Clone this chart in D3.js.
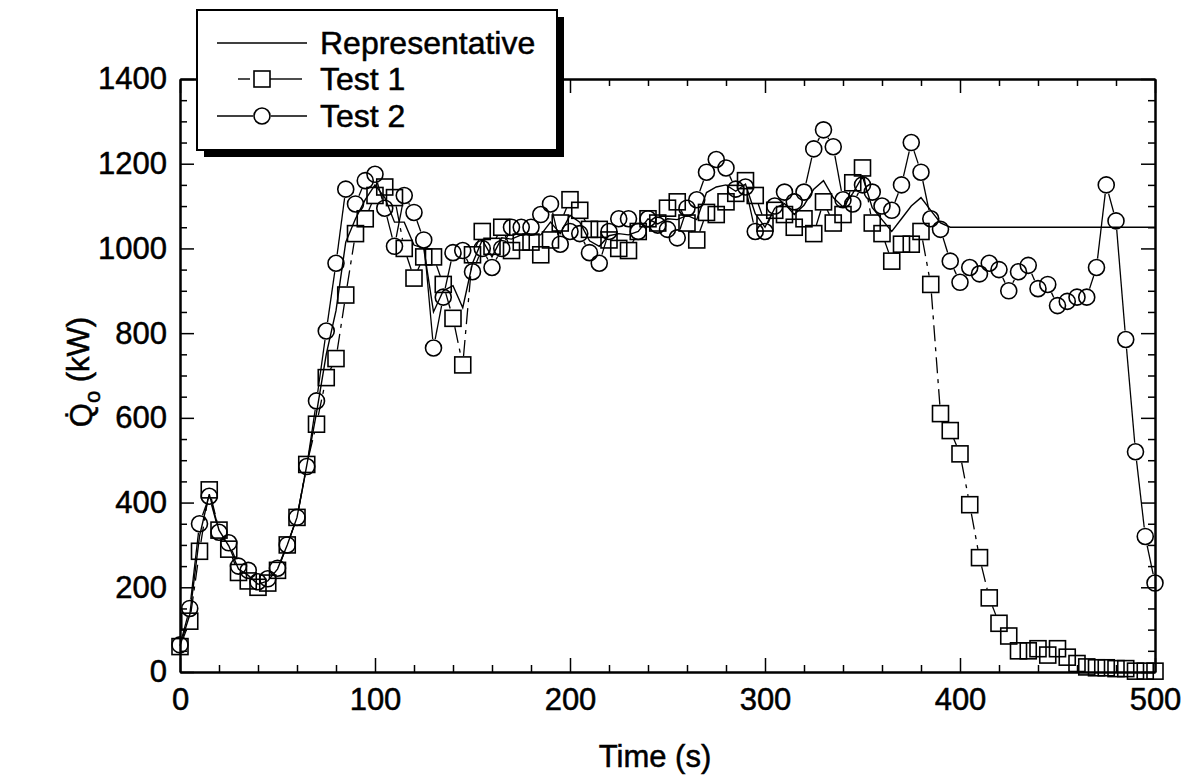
<!DOCTYPE html>
<html>
<head>
<meta charset="utf-8">
<script src="https://cdn.jsdelivr.net/npm/d3@7"></script>
<style>
  body { margin: 0; background: #fff; }
  text { font-family: "Liberation Sans", Arial, sans-serif; fill: #000; stroke: #000; stroke-width: 0.5px; }
</style>
</head>
<body>
<svg id="chart" width="1191" height="780"></svg>
<script>
// time (s), sampled every 5 s
const times = [0,5,10,15,20,25,30,35,40,45,50,55,60,65,70,75,80,85,90,95,
  100,105,110,115,120,125,130,135,140,145,150,155,160,165,170,175,180,185,190,195,
  200,205,210,215,220,225,230,235,240,245,250,255,260,265,270,275,280,285,290,295,
  300,305,310,315,320,325,330,335,340,345,350,355,360,365,370,375,380,385,390,395,
  400,405,410,415,420,425,430,435,440,445,450,455,460,465,470,475,480,485,490,495,500];

// heat release rate, kW
const test1 = [60,120,285,430,335,290,235,215,200,210,240,300,365,490,585,695,740,890,1035,1070,
  1125,1145,1120,1000,930,980,980,915,835,725,985,1040,1005,1050,995,1015,1015,985,1020,1060,
  1115,1090,1045,1045,1020,1000,995,1040,1070,1060,1095,1110,1060,1020,1085,1080,1110,1130,1160,1125,
  1060,1090,1080,1050,1070,1035,1110,1060,1080,1155,1190,1060,1035,970,1010,1010,1040,915,610,570,
  515,395,270,175,115,85,50,50,55,40,55,35,20,12,10,10,8,8,2,2,2];

const test2 = [64,150,350,415,330,305,250,240,213,220,245,300,365,485,640,805,965,1140,1105,1160,
  1175,1095,1005,1125,1085,1020,765,885,990,995,945,1000,955,1000,1050,1050,1050,1080,1105,1010,
  1040,1035,990,965,1040,1070,1070,1040,1070,1055,1045,1025,1095,1115,1180,1210,1190,1140,1145,1040,
  1040,1100,1133,1110,1133,1235,1280,1240,1115,1105,1150,1133,1100,1090,1150,1250,1180,1070,1045,970,
  920,955,940,965,950,900,945,960,905,915,865,875,885,885,955,1150,1065,785,520,320,210];

const representative = [62,135,320,420,335,298,243,228,207,215,243,300,365,488,612,750,853,1015,1070,1115,
  1150,1120,1062,1062,1008,1000,850,900,912,860,965,1020,980,1025,1022,1032,1032,1032,1062,1035,
  1078,1062,1018,1005,1030,1035,1032,1040,1070,1058,1070,1068,1078,1068,1132,1145,1150,1135,1152,1082,
  1050,1095,1106,1080,1102,1140,1160,1120,1098,1130,1170,1096,1068,1040,1070,1100,1120,1090,1060,1050,
  1050,1050,1050,1050,1050,1050,1050,1050,1050,1050,1050,1050,1050,1050,1050,1050,1050,1050,1050,1050,1050];

const xMajor = [0,100,200,300,400,500];
const xMinor = [20,40,60,80,120,140,160,180,220,240,260,280,320,340,360,380,420,440,460,480];
const yMajor = [0,200,400,600,800,1000,1200,1400];
const yMinor = [50,100,150,250,300,350,450,500,550,650,700,750,850,900,950,1050,1100,1150,1250,1300,1350];

const margin = { top: 79, right: 36, bottom: 108, left: 180 };
const width = 1191 - margin.left - margin.right;
const height = 780 - margin.top - margin.bottom;

const svg = d3.select("#chart");
const g = svg.append("g").attr("transform", `translate(${margin.left},${margin.top})`);

const x = d3.scaleLinear().domain([0, 500]).range([0, width]);
const y = d3.scaleLinear().domain([0, 1400]).range([height, 0]);

const majorLen = 14, minorLen = 7;

// axes: ticks point inward on all four sides
function styleAxis(sel) {
  sel.selectAll("path.domain").attr("stroke", "#000").attr("stroke-width", 2);
  sel.selectAll(".tick line").attr("stroke", "#000").attr("stroke-width", 1.5);
  sel.selectAll("text").attr("font-size", 31).attr("font-family", '"Liberation Sans", Arial, sans-serif');
}

g.append("g").attr("transform", `translate(0,${height})`)
  .call(d3.axisBottom(x).tickValues(xMajor).tickFormat(d3.format("d"))
    .tickSizeInner(-majorLen).tickSizeOuter(0).tickPadding(16))
  .call(styleAxis);
g.append("g").attr("transform", `translate(0,${height})`)
  .call(d3.axisBottom(x).tickValues(xMinor).tickFormat("").tickSizeInner(-minorLen).tickSizeOuter(0))
  .call(styleAxis);
g.append("g")
  .call(d3.axisTop(x).tickValues(xMajor).tickFormat("").tickSizeInner(-majorLen).tickSizeOuter(0))
  .call(styleAxis);
g.append("g")
  .call(d3.axisTop(x).tickValues(xMinor).tickFormat("").tickSizeInner(-minorLen).tickSizeOuter(0))
  .call(styleAxis);

g.append("g")
  .call(d3.axisLeft(y).tickValues(yMajor).tickFormat(d3.format("d"))
    .tickSizeInner(-majorLen).tickSizeOuter(0).tickPadding(13))
  .call(styleAxis);
g.append("g")
  .call(d3.axisLeft(y).tickValues(yMinor).tickFormat("").tickSizeInner(-minorLen).tickSizeOuter(0))
  .call(styleAxis);
g.append("g").attr("transform", `translate(${width},0)`)
  .call(d3.axisRight(y).tickValues(yMajor).tickFormat("").tickSizeInner(-majorLen).tickSizeOuter(0))
  .call(styleAxis);
g.append("g").attr("transform", `translate(${width},0)`)
  .call(d3.axisRight(y).tickValues(yMinor).tickFormat("").tickSizeInner(-minorLen).tickSizeOuter(0))
  .call(styleAxis);

// axis titles
svg.append("text")
  .attr("x", 655).attr("y", 767)
  .attr("text-anchor", "middle")
  .attr("font-size", 31)
  .text("Time (s)");

const yTitle = svg.append("text")
  .attr("transform", "translate(92,372) rotate(-90)")
  .attr("text-anchor", "middle")
  .attr("font-size", 31);
yTitle.append("tspan").text("Q\u0307");
yTitle.append("tspan").attr("dy", "0.35em").attr("font-size", 22).text("o");
yTitle.append("tspan").attr("dy", "-0.35em").text(" (kW)");

// series
const pts = vals => vals.map((v, i) => [x(times[i]), y(v)]);

// lines drawn between markers, stopping short of each marker like the original plot
function gapped(points, gap) {
  const segs = [];
  for (let i = 1; i < points.length; i++) {
    const [x0, y0] = points[i - 1], [x1, y1] = points[i];
    const len = Math.hypot(x1 - x0, y1 - y0);
    if (len <= 2 * gap + 1) continue;
    const ux = (x1 - x0) / len, uy = (y1 - y0) / len;
    segs.push([x0 + ux * gap, y0 + uy * gap, x1 - ux * gap, y1 - uy * gap]);
  }
  return segs;
}

const line = d3.line().x((d, i) => x(times[i])).y(d => y(d));

g.append("path")
  .datum(representative)
  .attr("fill", "none")
  .attr("stroke", "#000")
  .attr("stroke-width", 1.4)
  .attr("d", line);

const sq = 16, cr = 8;

g.append("g").selectAll("line")
  .data(gapped(pts(test1), sq / 2 + 1))
  .join("line")
    .attr("x1", d => d[0]).attr("y1", d => d[1])
    .attr("x2", d => d[2]).attr("y2", d => d[3])
    .attr("stroke", "#000").attr("stroke-width", 1.3)
    .attr("stroke-dasharray", "16,6,4,6");

g.append("g").selectAll("line")
  .data(gapped(pts(test2), cr + 1))
  .join("line")
    .attr("x1", d => d[0]).attr("y1", d => d[1])
    .attr("x2", d => d[2]).attr("y2", d => d[3])
    .attr("stroke", "#000").attr("stroke-width", 1.3);

g.append("g").selectAll("rect")
  .data(test1)
  .join("rect")
    .attr("x", (d, i) => x(times[i]) - sq / 2)
    .attr("y", d => y(d) - sq / 2)
    .attr("width", sq).attr("height", sq)
    .attr("fill", "none").attr("stroke", "#000").attr("stroke-width", 1.6);

g.append("g").selectAll("circle")
  .data(test2)
  .join("circle")
    .attr("cx", (d, i) => x(times[i]))
    .attr("cy", d => y(d))
    .attr("r", cr)
    .attr("fill", "none").attr("stroke", "#000").attr("stroke-width", 1.6);

// legend box with heavy drop shadow
const legend = svg.append("g").attr("transform", "translate(197,10)");
legend.append("rect").attr("x", 7).attr("y", 7).attr("width", 360).attr("height", 140).attr("fill", "#000");
legend.append("rect").attr("width", 360).attr("height", 140)
  .attr("fill", "#fff").attr("stroke", "#000").attr("stroke-width", 2);

const legendRows = ["Representative", "Test 1", "Test 2"];
const rowY = [33, 69, 106];

legend.append("line").attr("x1", 20).attr("x2", 110).attr("y1", rowY[0]).attr("y2", rowY[0])
  .attr("stroke", "#000").attr("stroke-width", 1.4);

legend.append("line").attr("x1", 41).attr("x2", 53).attr("y1", rowY[1]).attr("y2", rowY[1])
  .attr("stroke", "#000").attr("stroke-width", 1.4);
legend.append("line").attr("x1", 73).attr("x2", 105).attr("y1", rowY[1]).attr("y2", rowY[1])
  .attr("stroke", "#000").attr("stroke-width", 1.4);
legend.append("rect").attr("x", 65 - sq / 2).attr("y", rowY[1] - sq / 2).attr("width", sq).attr("height", sq)
  .attr("fill", "none").attr("stroke", "#000").attr("stroke-width", 1.6);

legend.append("line").attr("x1", 20).attr("x2", 56).attr("y1", rowY[2]).attr("y2", rowY[2])
  .attr("stroke", "#000").attr("stroke-width", 1.4);
legend.append("line").attr("x1", 74).attr("x2", 110).attr("y1", rowY[2]).attr("y2", rowY[2])
  .attr("stroke", "#000").attr("stroke-width", 1.4);
legend.append("circle").attr("cx", 65).attr("cy", rowY[2]).attr("r", cr)
  .attr("fill", "none").attr("stroke", "#000").attr("stroke-width", 1.6);

legend.selectAll("text.lbl")
  .data(legendRows)
  .join("text")
    .attr("class", "lbl")
    .attr("x", 123)
    .attr("y", (d, i) => rowY[i] + 11)
    .attr("font-size", 32)
    .text(d => d);
</script>
</body>
</html>
